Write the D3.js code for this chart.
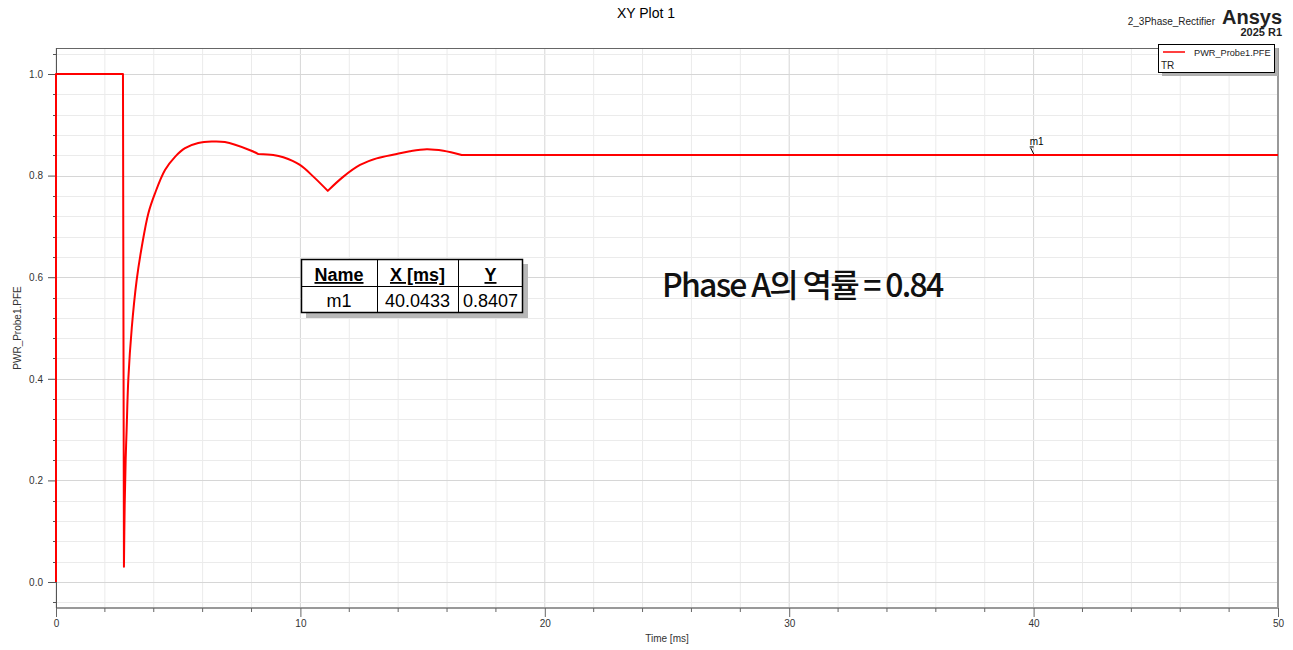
<!DOCTYPE html>
<html>
<head>
<meta charset="utf-8">
<script src="https://cdn.jsdelivr.net/npm/d3@7"></script>
<style>
  body { margin: 0; background: #fff; }
  svg { font-family: "Liberation Sans", Arial, sans-serif; }
  .tick-label { font-size: 10px; fill: #333; }
</style>
</head>
<body>
<svg class="chart"></svg>
<script>
// Data
var timeMs = [0, 0, 2.74, 2.78, 2.81, 2.85, 2.89, 2.96, 3.10, 3.30, 3.51, 3.78, 4.05, 4.46, 4.87, 5.28, 5.82, 6.37, 6.91,
  7.94, 8.28, 8.89, 9.30, 9.98, 10.53, 11.12, 11.76, 12.44, 13.12, 13.94, 14.48, 15.17, 15.85, 16.60, 50];
var pfe = [0, 1, 1, 0.03, 0.15, 0.24, 0.30, 0.40, 0.50, 0.594, 0.66, 0.726, 0.765, 0.811, 0.837, 0.854, 0.864, 0.867, 0.866,
  0.850, 0.8425, 0.8406, 0.836, 0.821, 0.798, 0.770, 0.798, 0.821, 0.834, 0.8425, 0.848, 0.852, 0.849, 0.8407, 0.8407];
// indices where the trace has a corner (kinks between smooth stretches)
var corners = [0, 1, 2, 3, 20, 25, 33, 34];
var xTicks = [0, 10, 20, 30, 40, 50];
var yTicks = [0.0, 0.2, 0.4, 0.6, 0.8, 1.0];
var seriesName = 'PWR_Probe1.PFE';
var markerName = 'm1';
var markerX = 40.0433;
var markerY = 0.8407;
var tableHead = ['Name', 'X [ms]', 'Y'];
var tableRow = [markerName, markerX.toFixed(4), markerY.toFixed(4)];

// Global setup
var W = 1293, H = 650;
var margin = {top: 48, right: 15, bottom: 42, left: 56};
var width = W - margin.left - margin.right;   // 1222
var height = H - margin.top - margin.bottom;  // 560

var svg = d3.select('.chart').attr('width', W).attr('height', H);

var x = d3.scaleLinear().domain([0, 50]).range([0, width]);
var y = d3.scaleLinear().domain([-0.0512, 1.0512]).range([height, 0]);

var g = svg.append('g').attr('transform', 'translate(' + margin.left + ',' + margin.top + ')');

// Grid
var xMinor = d3.range(0, 50.001, 2);
var yMinor = d3.range(-0.04, 1.0401, 0.04).map(function (v) { return Math.round(v * 100) / 100; });
function isMajorY (d) { return Math.abs(d * 5 - Math.round(d * 5)) < 1e-6; }

g.selectAll('.vgrid').data(xMinor).enter().append('line')
  .attr('x1', function (d) { return x(d); }).attr('x2', function (d) { return x(d); })
  .attr('y1', 0).attr('y2', height)
  .attr('stroke', function (d) { return d % 10 === 0 ? '#d6d6d6' : '#ebebeb'; })
  .attr('stroke-width', 1);

g.selectAll('.hgrid').data(yMinor).enter().append('line')
  .attr('x1', 0).attr('x2', width)
  .attr('y1', function (d) { return Math.round(y(d)) + 0.5; }).attr('y2', function (d) { return Math.round(y(d)) + 0.5; })
  .attr('stroke', function (d) { return isMajorY(d) ? '#d6d6d6' : '#ebebeb'; })
  .attr('stroke-width', 1);

// Frame
g.append('line').attr('x1', 0).attr('x2', width).attr('y1', 0.5).attr('y2', 0.5).attr('stroke', '#666');
g.append('line').attr('x1', width).attr('x2', width).attr('y1', 0).attr('y2', height).attr('stroke', '#999').attr('stroke-width', 2);
g.append('line').attr('x1', 0).attr('x2', width + 1).attr('y1', height).attr('y2', height).attr('stroke', '#999').attr('stroke-width', 2);
g.append('line').attr('x1', 0.5).attr('x2', 0.5).attr('y1', 0).attr('y2', height).attr('stroke', '#555');

// X axis ticks
var xAxis = d3.axisBottom(x).tickValues(xTicks).tickSize(9).tickPadding(3).tickFormat(d3.format('d'));
var xAx = g.append('g').attr('transform', 'translate(0,' + height + ')').call(xAxis);
xAx.select('.domain').remove();
xAx.selectAll('.tick line').attr('stroke', '#666');
xAx.selectAll('.tick text').attr('class', 'tick-label').attr('font-family', null).attr('font-size', null).attr('fill', '#333');
g.selectAll('.xminor').data(xMinor.filter(function (d) { return d % 10 !== 0; })).enter().append('line')
  .attr('x1', function (d) { return x(d); }).attr('x2', function (d) { return x(d); })
  .attr('y1', height).attr('y2', height + 4).attr('stroke', '#666');

// Y axis ticks
var yAxis = d3.axisLeft(y).tickValues(yTicks).tickSize(8).tickPadding(5).tickFormat(d3.format('.1f'));
var yAx = g.append('g').call(yAxis);
yAx.select('.domain').remove();
yAx.selectAll('.tick line').attr('stroke', '#555');
yAx.selectAll('.tick text').attr('class', 'tick-label').attr('font-family', null).attr('font-size', null).attr('fill', '#333');
g.selectAll('.yminor').data(yMinor.filter(function (d) { return !isMajorY(d); })).enter().append('line')
  .attr('x1', -3).attr('x2', 0)
  .attr('y1', function (d) { return Math.round(y(d)) + 0.5; }).attr('y2', function (d) { return Math.round(y(d)) + 0.5; })
  .attr('stroke', '#555');

// Curve: smooth between corner points, straight where the trace jumps
var pts = d3.zip(timeMs, pfe);
var smooth = d3.line()
  .x(function (d) { return x(d[0]); })
  .y(function (d) { return y(d[1]); })
  .curve(d3.curveCatmullRom.alpha(0.5));
var dStr = '';
for (var k = 0; k < corners.length - 1; k++) {
  var seg = pts.slice(corners[k], corners[k + 1] + 1);
  var s = smooth(seg);
  dStr += (k === 0 ? s : s.replace(/^M[^LC]*/, ''));
}
g.append('path')
  .attr('d', dStr)
  .attr('fill', 'none')
  .attr('stroke', '#ff0000')
  .attr('stroke-width', 2)
  .attr('stroke-linejoin', 'round');

// Marker m1
var mx = x(markerX), my = y(markerY);
g.append('path')
  .attr('d', 'M' + (mx - 5) + ',' + (my - 8) + 'H' + (mx - 1) + 'M' + (mx - 4) + ',' + (my - 7) + 'L' + (mx - 1) + ',' + (my - 1))
  .attr('stroke', '#000').attr('stroke-width', 1).attr('fill', 'none');
g.append('text').attr('x', mx - 5).attr('y', my - 10).attr('font-size', 10).attr('fill', '#000').text(markerName);

// Titles
svg.append('text').attr('x', 646).attr('y', 18).attr('text-anchor', 'middle').attr('font-size', 14).attr('fill', '#000').text('XY Plot 1');
svg.append('text').attr('x', margin.left + width / 2).attr('y', 642).attr('text-anchor', 'middle').attr('font-size', 10).attr('fill', '#333').text('Time [ms]');
svg.append('text').attr('transform', 'translate(21,' + (margin.top + height / 2) + ') rotate(-90)')
  .attr('text-anchor', 'middle').attr('font-size', 10).attr('fill', '#333').text(seriesName);

// Ansys logo + design name
svg.append('text').attr('x', 1282).attr('y', 24).attr('text-anchor', 'end').attr('font-size', 20).attr('font-weight', 'bold').attr('fill', '#222').text('Ansys');
svg.append('text').attr('x', 1282).attr('y', 36).attr('text-anchor', 'end').attr('font-size', 11).attr('font-weight', 'bold').attr('fill', '#222').text('2025 R1');
svg.append('text').attr('x', 1215).attr('y', 25).attr('text-anchor', 'end').attr('font-size', 10).attr('fill', '#222').text('2_3Phase_Rectifier');

// Legend
var lg = svg.append('g').attr('transform', 'translate(1158,44)');
lg.append('rect').attr('x', 4).attr('y', 4).attr('width', 116).attr('height', 28).attr('fill', '#b0b0b0');
lg.append('rect').attr('x', 0.5).attr('y', 0.5).attr('width', 116).attr('height', 28).attr('fill', '#fff').attr('stroke', '#000');
lg.append('line').attr('x1', 5).attr('x2', 27).attr('y1', 8).attr('y2', 8).attr('stroke', '#ff0000').attr('stroke-width', 1.5);
lg.append('text').attr('x', 36).attr('y', 12).attr('font-size', 9.2).attr('fill', '#222').text(seriesName);
lg.append('text').attr('x', 3).attr('y', 25).attr('font-size', 10).attr('fill', '#222').text('TR');

// Marker table
var tb = svg.append('g').attr('transform', 'translate(301,259)');
var colX = [0, 76, 157, 222];
var rowH = 27;
tb.append('rect').attr('x', 5).attr('y', 5).attr('width', 222).attr('height', 54).attr('fill', '#b8b8b8');
tb.append('rect').attr('x', 0.5).attr('y', 0.5).attr('width', 221).attr('height', 53).attr('fill', '#fff').attr('stroke', '#000').attr('stroke-width', 1.5);
tb.append('line').attr('x1', 0).attr('x2', 222).attr('y1', rowH + 0.5).attr('y2', rowH + 0.5).attr('stroke', '#000');
[1, 2].forEach(function (i) {
  tb.append('line').attr('x1', colX[i] + 0.5).attr('x2', colX[i] + 0.5).attr('y1', 0).attr('y2', 54).attr('stroke', '#000');
});
tableHead.forEach(function (h, i) {
  tb.append('text').attr('x', (colX[i] + colX[i + 1]) / 2).attr('y', 22).attr('text-anchor', 'middle')
    .attr('font-size', 18).attr('font-weight', 'bold').attr('text-decoration', 'underline').attr('fill', '#000').text(h);
});
tableRow.forEach(function (v, i) {
  tb.append('text').attr('x', (colX[i] + colX[i + 1]) / 2).attr('y', 48).attr('text-anchor', 'middle')
    .attr('font-size', 18).attr('fill', '#000').text(v);
});

// Annotation
svg.append('text').attr('x', 662).attr('y', 297)
  .attr('font-family', '"Noto Sans CJK KR", "Noto Sans", sans-serif')
  .attr('font-size', 32).attr('font-weight', 500).attr('letter-spacing', '-1.75px').attr('fill', '#111')
  .text('Phase A의 역률 = 0.84');
</script>
</body>
</html>
